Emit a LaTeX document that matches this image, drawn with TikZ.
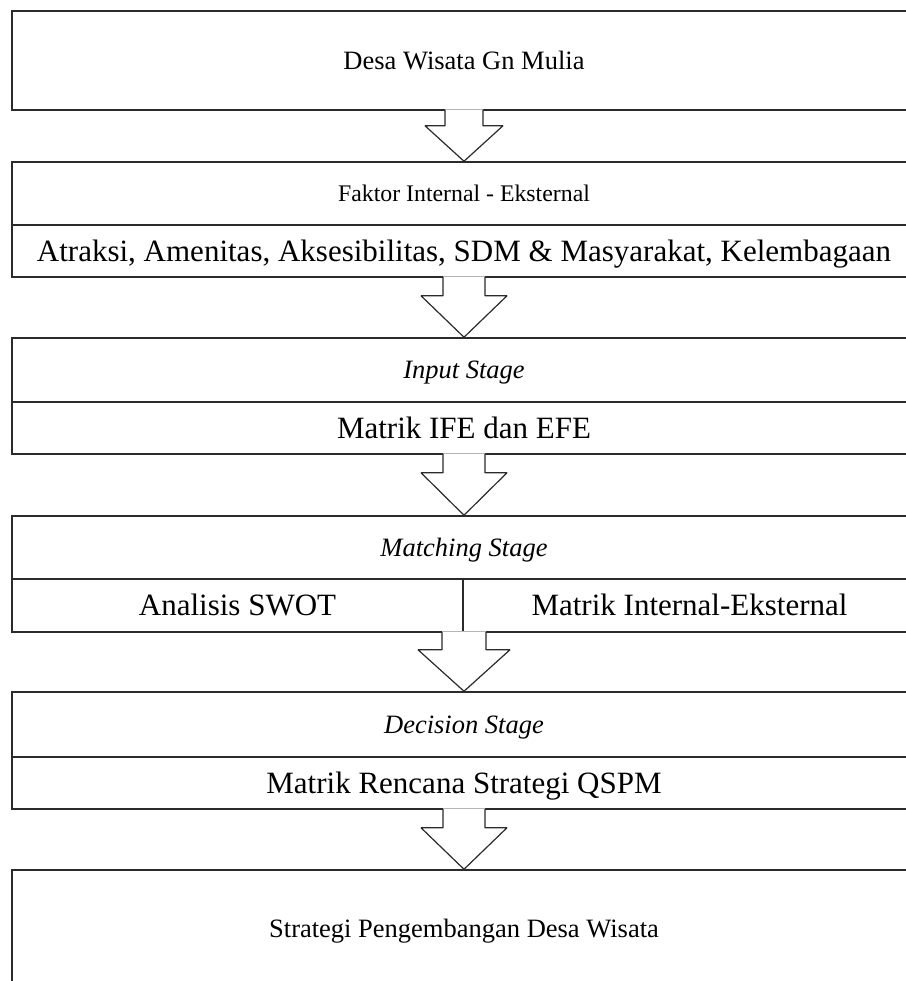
\documentclass[tikz,border=0pt]{standalone}
\usepackage{fontspec}
\setmainfont{Liberation Serif}
\usetikzlibrary{calc}
\definecolor{linegray}{HTML}{2B2B2B}
\newcommand\fsSmall{\fontsize{26.5}{30}\selectfont}
\newcommand\fsSmaller{\fontsize{23.8}{28}\selectfont}
\newcommand\fsBig{\fontsize{31}{36}\selectfont}
\tikzset{
  sec/.style={draw=linegray, line width=1.5pt, minimum width=904pt, inner sep=0pt,
    font=\fsSmall, text height=17.5pt, text depth=0pt},
  bigsec/.style={sec, font=\fsBig, text height=20.5pt},
  arrowline/.style={draw=linegray, line width=1.2pt, line join=bevel},
}
\newcommand\blkarrow[5]{%
  \fill[white] ($(#1)+(-#3,-1.3)$) -- ($(#1)+(-#3,#5)$) -- ($(#1)+(-#4,#5)$) -- (#2)
     -- ($(#1)+(#4,#5)$) -- ($(#1)+(#3,#5)$) -- ($(#1)+(#3,-1.3)$) -- cycle;
  \draw[arrowline] ($(#1)+(-#3,-0.75)$) -- ($(#1)+(-#3,#5)$) -- ($(#1)+(-#4,#5)$) -- (#2)
     -- ($(#1)+(#4,#5)$) -- ($(#1)+(#3,#5)$) -- ($(#1)+(#3,-0.75)$);
}
\begin{document}
\begin{tikzpicture}[x=1pt, y=-1pt]
\useasboundingbox[fill=white] (0,0) rectangle (905,981);
% boxes
\node[sec, minimum height=99pt] (b1) at (464,60.5) {Desa Wisata Gn Mulia};
\node[sec, font=\fsSmaller, text height=16pt, minimum height=63pt] (b2a) at (464,193.5) {Faktor Internal - Eksternal};
\node[bigsec, minimum height=52pt] (b2b) at (464,251) {Atraksi, Amenitas, Aksesibilitas, SDM \& Masyarakat, Kelembagaan};
\node[sec, minimum height=64pt] (b3a) at (464,370) {\itshape Input Stage};
\node[bigsec, minimum height=52pt] (b3b) at (464,428) {Matrik IFE dan EFE};
\node[sec, minimum height=63pt] (b4a) at (464,547.5) {\itshape Matching Stage};
\node[bigsec, minimum height=53pt, minimum width=451pt] (b4l) at (237.5,605.5) {Analisis SWOT};
\node[bigsec, minimum height=53pt, minimum width=453pt] (b4r) at (689.5,605.5) {Matrik Internal-Eksternal};
\node[sec, minimum height=65pt] (b5a) at (464,724.5) {\itshape Decision Stage};
\node[bigsec, minimum height=52pt] (b5b) at (464,783) {Matrik Rencana Strategi QSPM};
\node[sec, minimum height=118pt] (b6) at (464,929) {Strategi Pengembangan Desa Wisata};
\coordinate (b4s) at (b4a.south |- b4l.south);
% block arrows
\blkarrow{b1.south}{b2a.north}{19}{39}{15}
\blkarrow{b2b.south}{b3a.north}{21}{43}{18}
\blkarrow{b3b.south}{b4a.north}{21}{43}{18}
\blkarrow{b4s}{b5a.north}{22}{46}{17}
\blkarrow{b5b.south}{b6.north}{21}{43}{18}
\end{tikzpicture}
\end{document}
